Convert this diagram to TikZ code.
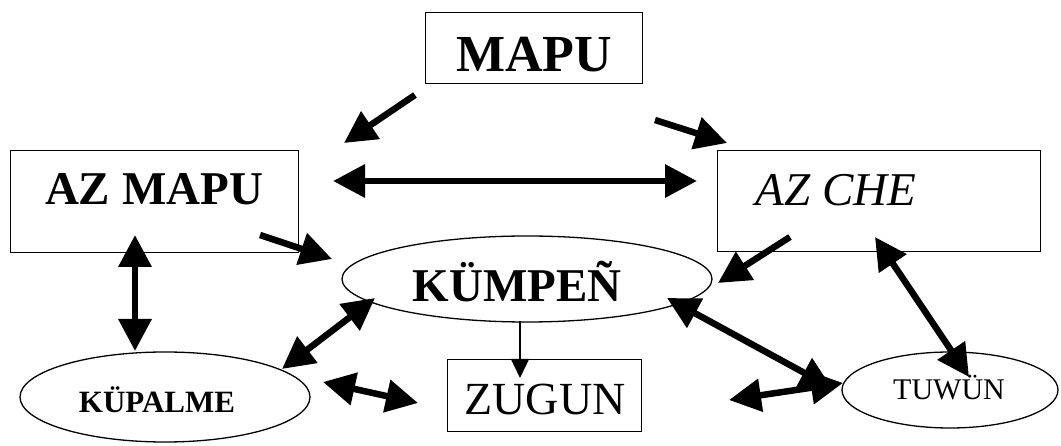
\documentclass[tikz,border=0pt]{standalone}
\usepackage{fontspec}
\setmainfont{Liberation Serif}
\usetikzlibrary{arrows.meta,shapes.geometric}
\begin{document}
\begin{tikzpicture}[x=1pt,y=-1pt,
  box/.style={draw,line width=1.3pt,inner sep=0pt,anchor=north west},
  oval/.style={draw,ellipse,line width=1.3pt,inner sep=0pt},
  txt/.style={inner sep=0pt,anchor=base},
  heavy/.style={line width=6.5pt,>={Triangle[length=32pt 0 0,width=32pt 0]}},
  light/.style={line width=1.4pt,-{Triangle[length=19pt 0 0,width=18pt 0]}}
]
\useasboundingbox (0,0) rectangle (1061,446);

% frames and ovals
\node[box,minimum width=217pt,minimum height=71pt]  (mapu)    at (425,12)  {};
\node[box,minimum width=288pt,minimum height=102pt] (azmapu)  at (10,150)  {};
\node[box,minimum width=323pt,minimum height=101pt] (azche)   at (717,150) {};
\node[box,minimum width=194pt,minimum height=72pt]  (zugun)   at (447,359) {};
\node[oval,minimum width=370pt,minimum height=86pt] (kumpen)  at (527,279) {};
\node[oval,minimum width=290pt,minimum height=90pt] (kupalme) at (165,397) {};
\node[oval,minimum width=216pt,minimum height=76pt] (tuwun)   at (950,390) {};

% labels
\node[txt,font=\fontsize{52}{60}\selectfont\bfseries] (mapu-t)    at (534,72)  {MAPU};
\node[txt,font=\fontsize{47}{56}\selectfont\bfseries] (azmapu-t)  at (154,205) {AZ MAPU};
\node[txt,font=\fontsize{47}{56}\selectfont\itshape]  (azche-t)   at (836,206) {AZ CHE};
\node[txt,font=\fontsize{47}{56}\selectfont\bfseries] (kumpen-t)  at (517,302) {KÜMPEÑ};
\node[txt,font=\fontsize{46}{55}\selectfont]          (zugun-t)   at (545,414) {ZUGUN};
\node[txt,font=\fontsize{31}{37}\selectfont\bfseries] (kupalme-t) at (157,413) {KÜPALME};
\node[txt,font=\fontsize{30}{36}\selectfont]          (tuwun-t)   at (949,400) {TUWÜN};

% arrow end points
\coordinate (a1s) at (415,95);  \coordinate (a1e) at (344,143);
\coordinate (a2s) at (655,120); \coordinate (a2e) at (727,143);
\coordinate (a3s) at (333,181); \coordinate (a3e) at (697,181);
\coordinate (a4s) at (260,235); \coordinate (a4e) at (332,259);
\coordinate (a5s) at (790,237); \coordinate (a5e) at (718,283);
\coordinate (a6s) at (135,235); \coordinate (a6e) at (135,351);
\coordinate (a7s) at (282,369); \coordinate (a7e) at (375,298);
\coordinate (a8s) at (323,382); \coordinate (a8e) at (418,403);
\coordinate (a9s) at (667,298); \coordinate (a9e) at (832,388);
\coordinate (a10s) at (729,400); \coordinate (a10e) at (843,383);
\coordinate (a11s) at (875,237); \coordinate (a11e) at (969,377);
\coordinate (a12s) at (520,321); \coordinate (a12e) at (520,378);

% connectors
\draw[heavy,->]  (a1s) -- (a1e);
\draw[heavy,->]  (a2s) -- (a2e);
\draw[heavy,<->] (a3s) -- (a3e);
\draw[heavy,->]  (a4s) -- (a4e);
\draw[heavy,->]  (a5s) -- (a5e);
\draw[heavy,<->] (a6s) -- (a6e);
\draw[heavy,<->] (a7s) -- (a7e);
\draw[heavy,<->] (a8s) -- (a8e);
\draw[heavy,<->] (a9s) -- (a9e);
\draw[heavy,<->] (a10s) -- (a10e);
\draw[heavy,<->] (a11s) -- (a11e);
\draw[light]     (a12s) -- (a12e);
\end{tikzpicture}
\end{document}
